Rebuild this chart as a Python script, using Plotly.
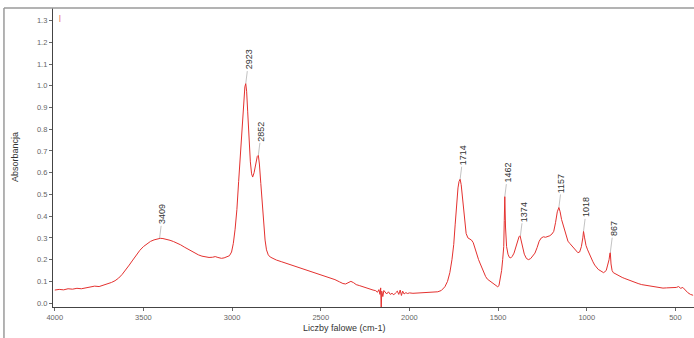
import plotly.graph_objects as go

# Spectrum data (wavenumber cm-1, absorbance)
wavenumber = [
    4000, 3975, 3950, 3925, 3900, 3875, 3850, 3825, 3800, 3775, 3750, 3725, 3700, 3680, 3660, 3640,
    3620, 3600, 3580, 3560, 3540, 3520, 3500, 3480, 3460, 3440, 3420, 3405, 3390, 3370, 3350, 3330,
    3310, 3290, 3270, 3250, 3230, 3210, 3190, 3170, 3150, 3130, 3110, 3095, 3080, 3060, 3045, 3030,
    3015, 3003, 2993, 2983, 2973, 2963, 2953, 2943, 2935, 2928, 2923, 2918, 2912, 2905, 2897, 2890,
    2884, 2876, 2868, 2858, 2852, 2846, 2838, 2830, 2822, 2814, 2806, 2796, 2785, 2770, 2750, 2720,
    2690, 2660, 2630, 2600, 2570, 2540, 2510, 2480, 2450, 2420, 2395, 2375, 2360, 2345, 2330, 2315,
    2300, 2280, 2260, 2240, 2220, 2205, 2190, 2180, 2172, 2166, 2162, 2159, 2156, 2150, 2144, 2136,
    2128, 2118, 2108, 2098, 2088, 2078, 2068, 2060, 2052, 2045, 2038, 2030, 2020, 2010, 2000, 1980,
    1960, 1940, 1920, 1900, 1880, 1860, 1840, 1820, 1800, 1785, 1772, 1760, 1750, 1742, 1734, 1726,
    1720, 1714, 1708, 1702, 1695, 1688, 1680, 1670, 1660, 1650, 1640, 1630, 1620, 1610, 1600, 1590,
    1580, 1570, 1560, 1545, 1530, 1515, 1502, 1495, 1488, 1480, 1474, 1468, 1465, 1462, 1458, 1452,
    1444, 1436, 1428, 1420, 1410, 1400, 1390, 1382, 1376, 1370, 1362, 1352, 1340, 1328, 1316, 1305,
    1292, 1280, 1268, 1256, 1244, 1232, 1220, 1208, 1196, 1186, 1176, 1166, 1157, 1150, 1142, 1134,
    1126, 1116, 1106, 1096, 1085, 1072, 1060, 1050, 1040, 1030, 1022, 1018, 1012, 1004, 995, 985,
    975, 965, 955, 945, 935, 925, 915, 905, 897, 890, 882, 874, 869, 867, 863, 857,
    850, 840, 830, 815, 800, 785, 770, 750, 730, 710, 690, 670, 650, 630, 610, 590,
    570, 550, 530, 510, 495, 482, 470, 458, 445, 430, 415, 400,
]
absorbance = [
    0.060, 0.063, 0.061, 0.066, 0.064, 0.068, 0.066, 0.071, 0.073, 0.078, 0.076, 0.083, 0.088, 0.095, 0.103, 0.115,
    0.132, 0.152, 0.175, 0.198, 0.222, 0.243, 0.260, 0.273, 0.284, 0.291, 0.296, 0.298, 0.297, 0.294, 0.289, 0.283,
    0.276, 0.268, 0.258, 0.248, 0.238, 0.229, 0.222, 0.216, 0.212, 0.210, 0.211, 0.214, 0.210, 0.206, 0.208, 0.212,
    0.218, 0.235, 0.275, 0.340, 0.430, 0.560, 0.700, 0.830, 0.940, 0.995, 1.010, 0.975, 0.880, 0.760, 0.650, 0.595,
    0.580, 0.600, 0.640, 0.675, 0.680, 0.640, 0.550, 0.450, 0.360, 0.290, 0.245, 0.222, 0.212, 0.205, 0.198, 0.190,
    0.182, 0.174, 0.166, 0.158, 0.150, 0.142, 0.134, 0.126, 0.118, 0.108, 0.098, 0.090, 0.088, 0.095, 0.100, 0.094,
    0.085, 0.080, 0.074, 0.068, 0.062, 0.060, 0.057, 0.050, 0.062, 0.040, 0.070, -0.030, 0.055, 0.030, 0.058, 0.048,
    0.042, 0.052, 0.040, 0.045, 0.038, 0.047, 0.055, 0.040, 0.060, 0.035, 0.055, 0.042, 0.048, 0.044, 0.047, 0.045,
    0.046, 0.046, 0.047, 0.048, 0.048, 0.050, 0.052, 0.058, 0.075, 0.100, 0.140, 0.200, 0.270, 0.360, 0.460, 0.530,
    0.560, 0.570, 0.545, 0.500, 0.440, 0.370, 0.320, 0.300, 0.295, 0.290, 0.278, 0.250, 0.222, 0.200, 0.180, 0.160,
    0.140, 0.122, 0.110, 0.100, 0.090, 0.082, 0.075, 0.080, 0.110, 0.150, 0.200, 0.260, 0.380, 0.490, 0.350, 0.260,
    0.225, 0.210, 0.208, 0.215, 0.230, 0.260, 0.290, 0.305, 0.310, 0.285, 0.250, 0.225, 0.205, 0.200, 0.205, 0.215,
    0.230, 0.255, 0.285, 0.300, 0.305, 0.303, 0.305, 0.310, 0.318, 0.330, 0.370, 0.420, 0.440, 0.420, 0.385, 0.360,
    0.340, 0.310, 0.285, 0.275, 0.265, 0.252, 0.240, 0.232, 0.235, 0.260, 0.300, 0.330, 0.300, 0.265, 0.245, 0.225,
    0.205, 0.190, 0.175, 0.162, 0.155, 0.150, 0.145, 0.140, 0.145, 0.150, 0.175, 0.200, 0.230, 0.232, 0.180, 0.150,
    0.140, 0.135, 0.130, 0.125, 0.118, 0.113, 0.108, 0.100, 0.094, 0.090, 0.085, 0.082, 0.078, 0.075, 0.072, 0.070,
    0.069, 0.070, 0.070, 0.069, 0.072, 0.076, 0.068, 0.072, 0.060, 0.048, 0.040, 0.036,
]

# Peak labels
peak_labels = [3409, 2923, 2852, 1714, 1462, 1374, 1157, 1018, 867]

x_ticks = [4000, 3500, 3000, 2500, 2000, 1500, 1000, 500]
y_ticks = [round(0.1 * i, 1) for i in range(14)]

FONT = "Liberation Sans, Arial, sans-serif"

fig = go.Figure()
fig.add_trace(go.Scatter(
    x=wavenumber, y=absorbance, mode="lines",
    line=dict(color="#e4312f", width=1),
    hoverinfo="skip", showlegend=False,
))

annotations = []
for p in peak_labels:
    idx = min(range(len(wavenumber)), key=lambda i: abs(wavenumber[i] - p))
    annotations.append(dict(
        x=p, y=absorbance[idx], xref="x", yref="y",
        text=str(p), textangle=-90,
        showarrow=True, arrowhead=0, arrowwidth=0.6, arrowcolor="#999999",
        ax=3, ay=-24,
        font=dict(family=FONT, size=9, color="#333333"),
    ))

annotations.append(dict(
    text="Liczby falowe (cm-1)", x=0.455, y=-0.07, xref="paper", yref="paper",
    showarrow=False, xanchor="center", yanchor="middle",
    font=dict(family=FONT, size=9, color="#333333"),
))
annotations.append(dict(
    text="Absorbancja", x=-0.06, y=0.5, xref="paper", yref="paper",
    showarrow=False, textangle=-90, xanchor="center", yanchor="middle",
    font=dict(family=FONT, size=9, color="#333333"),
))
annotations.append(dict(
    text="|", x=0.011, y=0.985, xref="paper", yref="paper",
    showarrow=False, xanchor="center", yanchor="top",
    font=dict(family=FONT, size=7, color="#e4312f"),
))

shapes = [
    dict(type="line", xref="paper", yref="paper", x0=-0.0765, x1=1.0, y0=1.0, y1=1.0,
         line=dict(color="#9a9a9a", width=1.5)),
    dict(type="line", xref="paper", yref="paper", x0=-0.0765, x1=-0.0765, y0=1.0, y1=-0.11,
         line=dict(color="#9a9a9a", width=1.5)),
]

fig.update_layout(
    width=694, height=338,
    margin=dict(l=53, r=0, t=8, b=31),
    paper_bgcolor="white", plot_bgcolor="white",
    font=dict(family=FONT, size=8, color="#666666"),
    annotations=annotations, shapes=shapes,
    xaxis=dict(
        range=[4010, 395], tickvals=x_ticks, ticktext=[str(t) for t in x_ticks],
        showgrid=False, zeroline=False, showline=True, linecolor="#444444", linewidth=1.2,
        ticks="outside", ticklen=3, tickcolor="#666666",
        tickfont=dict(size=7.5, color="#666666"),
    ),
    yaxis=dict(
        range=[-0.018, 1.358], tickvals=y_ticks, ticktext=["%.1f" % v for v in y_ticks],
        showgrid=False, zeroline=False, showline=True, linecolor="#444444", linewidth=1.2,
        ticks="outside", ticklen=3, tickcolor="#666666",
        tickfont=dict(size=7.5, color="#666666"),
    ),
)

fig.write_html(
    "out.html",
    config={"displayModeBar": False},
    post_script="document.body.style.margin='0';document.body.style.overflow='hidden';",
)
